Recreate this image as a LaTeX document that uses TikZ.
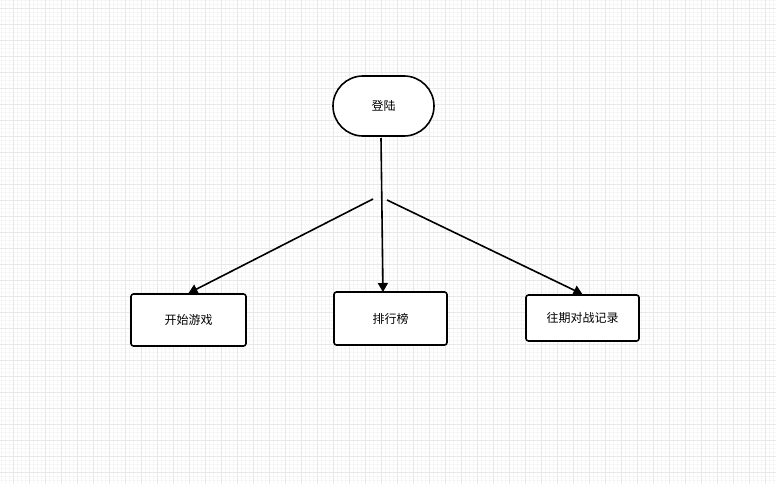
\documentclass[tikz,border=0pt]{standalone}
\usepackage{fontspec}
\setmainfont{Noto Sans CJK SC}
\usetikzlibrary{arrows.meta}
\definecolor{gridmajor}{HTML}{E8E8E8}
\definecolor{gridminor}{HTML}{F6F6F6}
\tikzset{
  every picture/.style={x=1pt,y=-1pt},
  procbox/.style={draw=black, line width=1.6pt, rounded corners=2.5pt, fill=white, inner sep=0pt, font=\fontsize{12}{14}\selectfont},
  termbox/.style={draw=black, line width=1.6pt, rounded corners=30pt, fill=white, inner sep=0pt, font=\fontsize{12}{14}\selectfont},
  flowarrow/.style={draw=black, line width=1.6pt, -{Triangle[length=9pt,width=10pt]}},
}
\begin{document}
\begin{tikzpicture}
\useasboundingbox (0,0) rectangle (776,484);
\fill[white] (0,0) rectangle (776,484);
% minor grid
\foreach \i in {1,...,194} {\draw[gridminor, line width=0.5pt] (\i*4-3,0) -- (\i*4-3,484);}
\foreach \j in {0,...,121} {\draw[gridminor, line width=0.5pt] (0,\j*4) -- (776,\j*4);}
% major grid
\foreach \i in {0,...,48} {\draw[gridmajor, line width=0.8pt] (\i*16+13,0) -- (\i*16+13,484);}
\foreach \j in {0,...,30} {\draw[gridmajor, line width=0.8pt] (0,\j*16+8) -- (776,\j*16+8);}

\node[termbox, minimum width=101pt, minimum height=60pt] (login) at (383.5,106) {登陆};
\node[procbox, minimum width=115pt, minimum height=52pt] (start) at (188.5,320) {开始游戏};
\node[procbox, minimum width=113pt, minimum height=53pt] (rank) at (390.5,318.5) {排行榜};
\node[procbox, minimum width=113pt, minimum height=46pt] (record) at (582.5,318) {往期对战记录};

\coordinate (vs) at (381,138);
\coordinate (ve) at (383,292);
\coordinate (ls) at (373,199);
\coordinate (rs) at (387,200);

\draw[flowarrow] (vs) -- (ve);
\draw[flowarrow] (ls) -- (start.north);
\draw[flowarrow] (rs) -- (record.north);
\end{tikzpicture}
\end{document}
